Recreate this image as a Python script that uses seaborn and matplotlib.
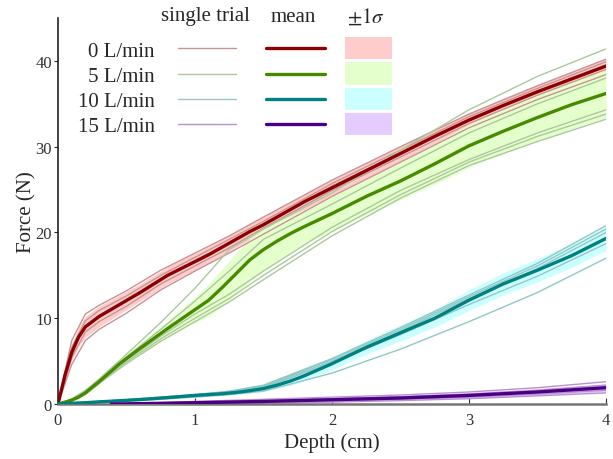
import pandas as pd
import seaborn as sns
import matplotlib.pyplot as plt
from matplotlib.lines import Line2D
from matplotlib.patches import Patch, Rectangle
from matplotlib.legend_handler import HandlerPatch

flows = ['0 L/min', '5 L/min', '10 L/min', '15 L/min']

# mean force and 1 sigma
depth = [0, 0.05, 0.1, 0.15, 0.2, 0.3, 0.45, 0.6, 0.8, 1.0, 1.1, 1.2, 1.3, 1.4, 1.5, 1.6, 1.7, 1.8,
         2.0, 2.25, 2.5, 2.75, 3.0, 3.25, 3.5, 3.75, 4.0]
mean_0 = [0, 3.3, 6.0, 7.8, 9.0, 10.2, 11.6, 13.0, 15.0, 16.6, 17.4, 18.3, 19.2, 20.1, 20.9, 21.8, 22.7, 23.6,
          25.2, 27.2, 29.2, 31.2, 33.1, 34.8, 36.4, 37.9, 39.4]
sig_0 = [0, 0.5, 0.9, 1.1, 1.2, 1.2, 1.1, 1.0, 1.0, 1.0, 1.0, 0.95, 0.95, 0.95, 0.9, 0.9, 0.9, 0.9,
         0.9, 0.9, 0.85, 0.85, 0.85, 0.85, 0.85, 0.85, 0.9]
mean_5 = [0, 0.2, 0.45, 0.8, 1.3, 2.6, 4.7, 6.5, 8.8, 11.0, 12.1, 13.6, 15.2, 16.8, 18.0, 19.0, 19.9, 20.7,
          22.2, 24.2, 26.0, 28.0, 30.1, 31.8, 33.4, 34.9, 36.2]
sig_5 = [0, 0.05, 0.1, 0.15, 0.2, 0.3, 0.4, 0.6, 0.9, 1.5, 1.9, 2.2, 2.4, 2.5, 2.4, 2.3, 2.1, 2.0,
         2.0, 2.1, 2.2, 2.4, 2.5, 2.6, 2.7, 2.8, 2.8]
mean_10 = [0, 0.04, 0.08, 0.12, 0.15, 0.25, 0.38, 0.52, 0.75, 1.0, 1.1, 1.2, 1.35, 1.55, 1.8, 2.2, 2.7, 3.3,
           4.7, 6.6, 8.3, 10.0, 12.1, 14.0, 15.6, 17.3, 19.3]
sig_10 = [0, 0.02, 0.03, 0.04, 0.05, 0.07, 0.1, 0.12, 0.15, 0.2, 0.2, 0.22, 0.25, 0.3, 0.35, 0.4, 0.5, 0.55,
          0.7, 0.8, 0.95, 1.05, 1.2, 1.3, 1.35, 1.4, 1.4]
depth_15 = [0.39, 0.5, 0.75, 1.0, 1.5, 2.0, 2.5, 3.0, 3.5, 4.0]
mean_15 = [0.0, 0.02, 0.08, 0.15, 0.3, 0.5, 0.7, 1.0, 1.4, 1.9]
sig_15 = [0.1, 0.12, 0.15, 0.18, 0.2, 0.25, 0.3, 0.35, 0.4, 0.45]

# single trials (5 per flow rate)
trial_depth = [0, 0.1, 0.2, 0.3, 0.5, 0.75, 1.0, 1.25, 1.5, 2.0, 2.5, 3.0, 3.5, 4.0]
trials_0 = [
    [0, 7.4, 10.5, 11.5, 13.2, 15.6, 17.6, 19.6, 21.8, 26.1, 30.0, 33.8, 37.1, 40.2],
    [0, 6.6, 9.7, 10.9, 12.6, 15.0, 17.1, 19.2, 21.3, 25.7, 29.6, 33.5, 36.8, 39.9],
    [0, 6.0, 9.1, 10.3, 12.1, 14.6, 16.7, 18.8, 21.0, 25.4, 29.3, 33.2, 36.5, 39.5],
    [0, 5.4, 8.4, 9.6, 11.4, 14.0, 16.1, 18.2, 20.5, 24.9, 28.8, 32.7, 36.0, 39.0],
    [0, 4.6, 7.4, 8.7, 10.6, 13.3, 15.5, 17.6, 19.8, 24.2, 28.2, 32.2, 35.5, 38.4],
]
trials_5 = [
    [0, 0.6, 1.6, 2.9, 5.8, 9.5, 13.5, 18.0, 20.4, 24.6, 29.6, 34.3, 38.2, 41.4],
    [0, 0.5, 1.4, 2.8, 5.5, 8.7, 12.0, 15.5, 19.2, 23.3, 27.5, 31.6, 35.0, 38.0],
    [0, 0.45, 1.3, 2.6, 5.1, 7.9, 10.5, 12.8, 15.5, 20.6, 24.9, 28.5, 31.6, 34.3],
    [0, 0.4, 1.2, 2.5, 4.9, 7.6, 10.0, 12.3, 15.0, 20.1, 24.4, 28.2, 31.2, 33.8],
    [0, 0.35, 1.1, 2.4, 4.7, 7.3, 9.6, 11.9, 14.5, 19.6, 24.0, 27.8, 30.6, 33.2],
]
trials_10 = [
    [0, 0.1, 0.2, 0.3, 0.5, 0.8, 1.1, 1.5, 2.2, 5.3, 8.9, 12.7, 16.4, 20.8],
    [0, 0.1, 0.2, 0.3, 0.5, 0.75, 1.05, 1.45, 2.1, 5.2, 8.7, 12.5, 16.1, 20.4],
    [0, 0.08, 0.15, 0.25, 0.45, 0.7, 1.0, 1.4, 2.0, 5.0, 8.5, 12.3, 15.8, 20.0],
    [0, 0.07, 0.14, 0.23, 0.42, 0.65, 0.95, 1.3, 1.9, 4.8, 8.1, 11.6, 14.9, 18.7],
    [0, 0.05, 0.1, 0.18, 0.35, 0.55, 0.8, 1.1, 1.5, 3.6, 6.4, 9.6, 13.0, 17.0],
]
trials_15 = [
    [0, 0.05, 0.15, 0.3, 0.55, 0.8, 1.05, 1.4, 1.9, 2.6],
    [0, 0.04, 0.12, 0.22, 0.42, 0.62, 0.85, 1.15, 1.6, 2.2],
    [0, 0.02, 0.08, 0.15, 0.3, 0.5, 0.7, 1.0, 1.4, 1.9],
    [0, 0.0, 0.04, 0.08, 0.2, 0.35, 0.55, 0.8, 1.15, 1.6],
    [0, 0.0, 0.0, 0.03, 0.1, 0.22, 0.4, 0.62, 0.95, 1.3],
]

mean_colors = ['#8b0000', '#468a00', '#008080', '#4b0082']
trial_colors = ['#c99393', '#abc99c', '#8fc9c6', '#b891d4']
band_colors = ['#ffcccc', '#e5ffcc', '#ccffff', '#e5ccff']

# long tables for seaborn
rows = []
for flow, xs, trials in zip(flows, [trial_depth, trial_depth, trial_depth, depth_15],
                            [trials_0, trials_5, trials_10, trials_15]):
    for k, tr in enumerate(trials):
        for x, y in zip(xs, tr):
            rows.append((flow, flow + str(k), x, y))
trial_df = pd.DataFrame(rows, columns=['flow', 'trial', 'depth', 'force'])

stats = [(depth, mean_0, sig_0), (depth, mean_5, sig_5),
         (depth, mean_10, sig_10), (depth_15, mean_15, sig_15)]
rows = []
for flow, (xs, m, s) in zip(flows, stats):
    for x, y, e in zip(xs, m, s):
        rows.append((flow, x, y, e))
mean_df = pd.DataFrame(rows, columns=['flow', 'depth', 'force', 'sigma'])

sns.set_style('ticks')
plt.rcParams['font.family'] = ['Liberation Serif', 'DejaVu Serif']
plt.rcParams['mathtext.fontset'] = 'stix'

fig = plt.figure(figsize=(6.13, 4.6), dpi=100)
ax = fig.add_axes([58 / 613, 55 / 460, 548 / 613, 386 / 460])

for flow, col in zip(flows, band_colors):
    d = mean_df[mean_df.flow == flow]
    ax.fill_between(d.depth, d.force - d.sigma, d.force + d.sigma,
                    color=col, lw=0, zorder=1)

sns.lineplot(data=trial_df, x='depth', y='force', hue='flow', units='trial',
             estimator=None, palette=trial_colors, hue_order=flows, lw=1.0,
             legend=False, ax=ax, zorder=2)
sns.lineplot(data=mean_df, x='depth', y='force', hue='flow', estimator=None,
             palette=mean_colors, hue_order=flows, lw=2.4, legend=False,
             ax=ax, zorder=3)

ax.set_xlim(0, 4)
ax.set_ylim(0, 45)
ax.set_xticks([0, 1, 2, 3, 4])
ax.set_yticks([0, 10, 20, 30, 40])
ax.set_xlabel('Depth (cm)', fontsize=15, labelpad=3)
ax.set_ylabel('Force (N)', fontsize=15, labelpad=-1)
ax.tick_params(axis='x', direction='in', length=4.5, pad=6, labelsize=12,
               labelcolor='#333333', color='#333333')
ax.tick_params(axis='y', direction='out', length=3, pad=1.5, labelsize=12,
               labelcolor='#333333')
sns.despine(ax=ax)
ax.spines['bottom'].set_color('#777777')
ax.spines['bottom'].set_linewidth(1.8)
ax.spines['left'].set_color('#222222')
ax.spines['left'].set_linewidth(1.2)


def sigma_box(legend, orig_handle, xdescent, ydescent, width, height, fontsize):
    return Rectangle((-xdescent - 7, -ydescent + height / 2 - 8), 34, 16)


handles = ([Line2D([], [], color=c, lw=1.0) for c in trial_colors]
           + [Line2D([], [], color=c, lw=2.4) for c in mean_colors]
           + [Patch(facecolor=c, edgecolor='none') for c in band_colors])
labels = flows + [''] * 8
ax.legend(handles, labels, ncol=3, markerfirst=False, frameon=False,
          fontsize=15, handlelength=2.8, handletextpad=1.1, columnspacing=0.34,
          labelspacing=0.27, borderpad=0, borderaxespad=0,
          loc='upper left', bbox_to_anchor=(78 / 613, 1 - 42 / 460),
          bbox_transform=fig.transFigure,
          handler_map={Patch: HandlerPatch(patch_func=sigma_box)})

for label, xc in [('single trial', 205), ('mean', 293), (r'$\pm1\sigma$', 366)]:
    fig.text(xc / 613, 1 - 17 / 460, label, ha='center', va='center', fontsize=15)

fig.savefig('out.png', dpi=100)
